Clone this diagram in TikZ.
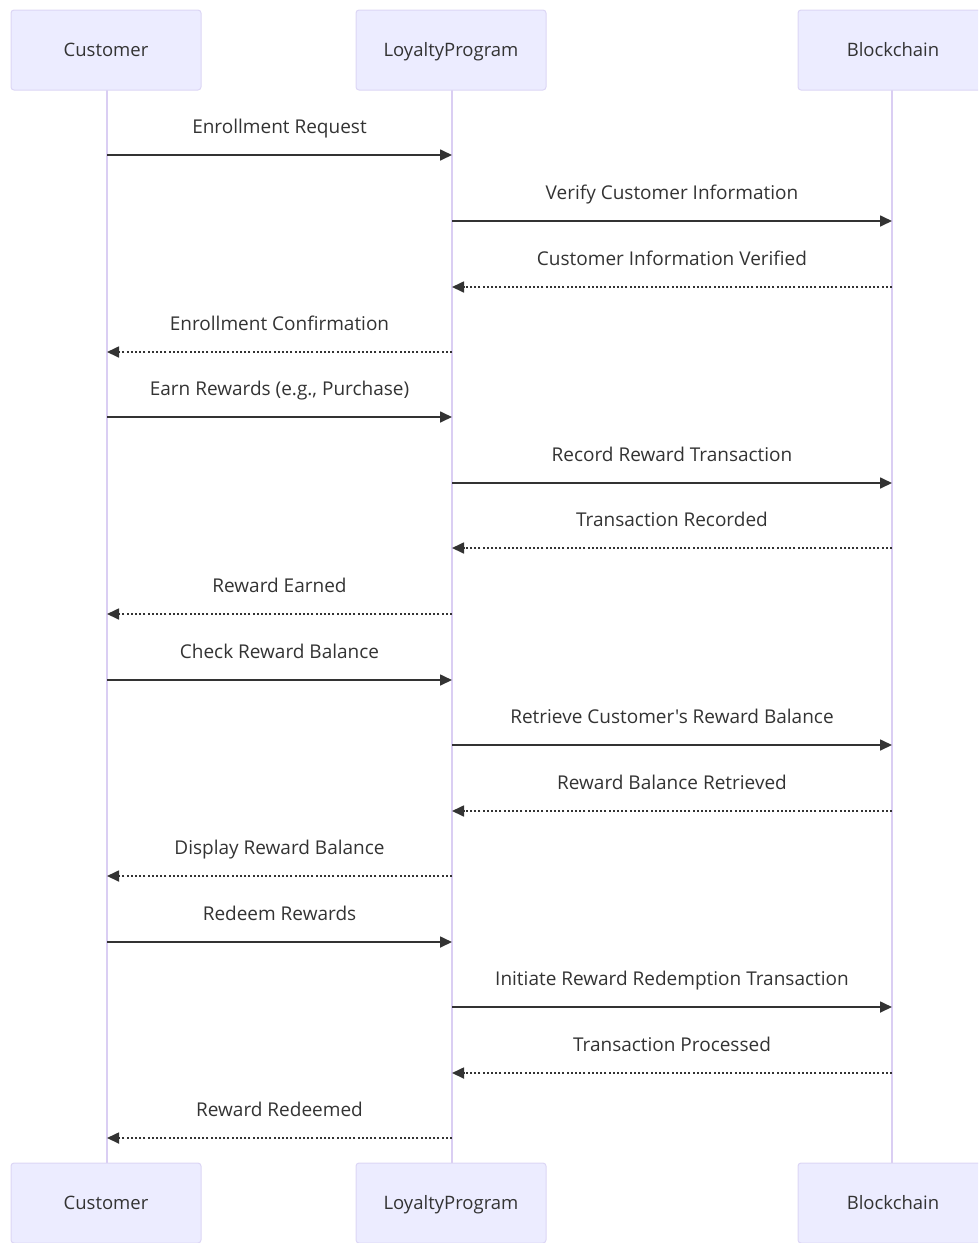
\documentclass[tikz,border=0pt]{standalone}
\usepackage{fontspec}
\setmainfont{Open Sans}[Ligatures=TeXOff]
\usetikzlibrary{arrows.meta}
\definecolor{boxfill}{HTML}{ECECFF}
\definecolor{boxline}{HTML}{DCD6F5}
\definecolor{life}{HTML}{DACEF3}
\definecolor{ink}{HTML}{333333}
\tikzset{
  actor/.style={draw=boxline, line width=1pt, fill=boxfill, rounded corners=3pt, minimum width=190pt, minimum height=80pt, inner sep=0pt, font=\fontsize{18.5}{22}\selectfont, text=ink, text height=13.5pt, text depth=4.5pt},
  lifeline/.style={draw=life, line width=1.6pt},
  msg/.style={draw=ink, line width=1.7pt, -{Triangle[length=12pt,width=11pt]}},
  reply/.style={msg, dash pattern=on 2pt off 2.2pt},
  lbl/.style={font=\fontsize{19}{22}\selectfont, text=ink, inner sep=0pt, text height=14pt, text depth=4.5pt},
}
\begin{document}
\begin{tikzpicture}[x=1pt,y=-1pt]
\useasboundingbox (0,0) rectangle (978,1243);
\clip (0,0) rectangle (978,1243);
% lifelines
\coordinate (Ctop) at (107,90);  \coordinate (Cbot) at (107,1163);
\coordinate (Ltop) at (452,90);  \coordinate (Lbot) at (452,1163);
\coordinate (Btop) at (892,90);  \coordinate (Bbot) at (892,1163);
\draw[lifeline] (Ctop) -- (Cbot);
\draw[lifeline] (Ltop) -- (Lbot);
\draw[lifeline] (Btop) -- (Bbot);
% actors
\node[actor] (C1) at (106,50) {\raisebox{-2pt}{Customer}};
\node[actor] (L1) at (451,50) {\raisebox{-2pt}{LoyaltyProgram}};
\node[actor] (B1) at (893,50) {\raisebox{-2pt}{Blockchain}};
\node[actor] (C2) at (106,1203) {\raisebox{-2pt}{Customer}};
\node[actor] (L2) at (451,1203) {\raisebox{-2pt}{LoyaltyProgram}};
\node[actor] (B2) at (893,1203) {\raisebox{-2pt}{Blockchain}};
% message anchor points
\foreach \i/\y in {1/155,2/221,3/287,4/352,5/417,6/483,7/548,8/614,9/680,10/745,11/811,12/876,13/942,14/1007,15/1073,16/1138}{
  \coordinate (c\i) at (107,\y);
  \coordinate (l\i) at (452,\y);
  \coordinate (b\i) at (892,\y);
}
\newcommand{\msgabove}[3]{\path (#1) -- (#2) node[midway, yshift=26pt, lbl] {#3};}
\draw[msg] (c1) -- (l1);   \msgabove{c1}{l1}{Enrollment Request}
\draw[msg] (l2) -- (b2);   \msgabove{l2}{b2}{Verify Customer Information}
\draw[reply] (b3) -- (l3); \msgabove{l3}{b3}{Customer Information Verified}
\draw[reply] (l4) -- (c4); \msgabove{c4}{l4}{Enrollment Confirmation}
\draw[msg] (c5) -- (l5);   \msgabove{c5}{l5}{Earn Rewards (e.g., Purchase)}
\draw[msg] (l6) -- (b6);   \msgabove{l6}{b6}{Record Reward Transaction}
\draw[reply] (b7) -- (l7); \msgabove{l7}{b7}{Transaction Recorded}
\draw[reply] (l8) -- (c8); \msgabove{c8}{l8}{Reward Earned}
\draw[msg] (c9) -- (l9);   \msgabove{c9}{l9}{Check Reward Balance}
\draw[msg] (l10) -- (b10); \msgabove{l10}{b10}{Retrieve Customer's Reward Balance}
\draw[reply] (b11) -- (l11); \msgabove{l11}{b11}{Reward Balance Retrieved}
\draw[reply] (l12) -- (c12); \msgabove{c12}{l12}{Display Reward Balance}
\draw[msg] (c13) -- (l13); \msgabove{c13}{l13}{Redeem Rewards}
\draw[msg] (l14) -- (b14); \msgabove{l14}{b14}{Initiate Reward Redemption Transaction}
\draw[reply] (b15) -- (l15); \msgabove{l15}{b15}{Transaction Processed}
\draw[reply] (l16) -- (c16); \msgabove{c16}{l16}{Reward Redeemed}
\end{tikzpicture}
\end{document}
